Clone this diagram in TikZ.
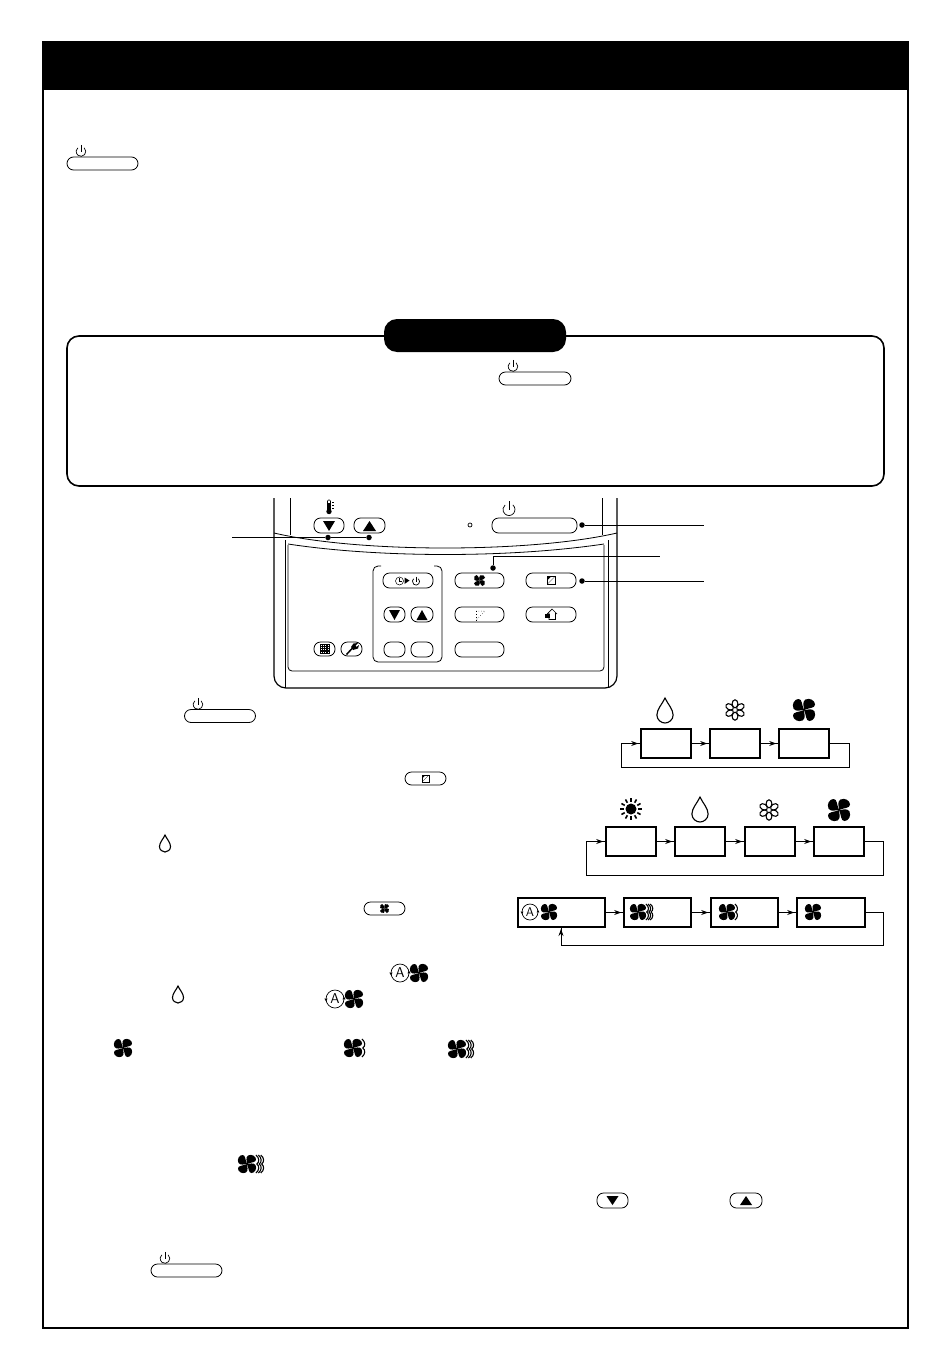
\documentclass[tikz,border=0pt]{standalone}
\usetikzlibrary{arrows.meta, decorations.markings}

\tikzset{
    pillbtn/.style={draw, rounded corners=6.5pt, inner sep=0pt, line width=0.8pt},
    modebox/.style={draw, line width=1.7pt, inner sep=0pt, minimum height=29pt},
    flowline/.style={line width=0.7pt, postaction={decorate}, decoration={markings,
        mark=at position -2pt with {\arrow{Stealth[length=7pt,width=5pt]}}}},
    leadline/.style={line width=1pt},
    leaddot/.style={circle, fill, inner sep=0pt, minimum size=5.5pt},
    pics/fan/.style={code={
        \foreach \a in {0,90,180,270}
            \fill[rotate=\a] (0,0) .. controls (-0.3,-0.02) and (-0.7,0.22) .. (-0.95,-0.12)
                .. controls (-1.15,-0.55) and (-0.85,-1) .. (-0.5,-1)
                .. controls (-0.15,-1) and (-0.22,-0.5) .. (0,0);
    }},
    pics/fanwave/.style={code={
        \foreach \a in {0,90,180,270}
            \fill[rotate=\a] (0,0) .. controls (-0.3,-0.02) and (-0.7,0.22) .. (-0.95,-0.12)
                .. controls (-1.15,-0.55) and (-0.85,-1) .. (-0.5,-1)
                .. controls (-0.15,-1) and (-0.22,-0.5) .. (0,0);
        \foreach \i in {1,...,#1}
            \draw[line width=1.1pt, shift={({0.72+0.27*\i},0)}] (0,-1) .. controls (0.4,-0.7) and (0.4,-0.2) .. (0.1,0)
                .. controls (0.4,0.2) and (0.4,0.7) .. (0,1);
    }},
    pics/drop/.style={code={
        \draw[line width=1.1pt] (0,-1) .. controls (0.2,-0.55) and (0.65,-0.1) .. (0.65,0.36)
            .. controls (0.65,0.75) and (0.3,1) .. (0,1)
            .. controls (-0.3,1) and (-0.65,0.75) .. (-0.65,0.36)
            .. controls (-0.65,-0.1) and (-0.2,-0.55) .. (0,-1) -- cycle;
    }},
    pics/flower/.style={code={
        \foreach \a in {0,60,120,180,240,300}
            \draw[line width=1.1pt, rotate=\a] (0,-0.62) ellipse (0.29 and 0.4);
    }},
    pics/sun/.style={code={
        \fill (0,0) circle (0.5);
        \foreach \a in {0,30,...,330}
            \draw[line width=1.6pt, rotate=\a] (0,-0.66) -- (0,-1);
    }},
    pics/powericon/.style={code={
        \draw[line width=0.7pt] (0.51,-0.61) arc (-50:230:0.8);
        \draw[line width=0.7pt] (0,-1.1) -- (0,0);
    }},
    pics/autoicon/.style={code={
        \draw[line width=0.7pt] (0,0) circle (1);
        \node[scale=0.11, transform shape, font=\sffamily\Large, inner sep=0pt] (autoletter) at (0,0) {A};
        \fill (-1,0.25) -- ++(-0.18,-0.3) -- ++(0.36,0) -- cycle;
        \fill (1,-0.25) -- ++(-0.18,0.3) -- ++(0.36,0) -- cycle;
    }},
    pics/modeicon/.style={code={
        \draw[line width=0.6pt] (-1,-1) rectangle (1,1);
        \draw[line width=0.3pt] (-1,1) -- (1,-1);
        \fill (-0.9,-0.9) -- (-0.1,-0.9) -- (-0.9,-0.1) -- cycle;
    }},
}

\begin{document}
\begin{tikzpicture}[x=1pt, y=-1pt]
    \useasboundingbox (0,0) rectangle (950,1370);

    % page frame and title bar
    \draw[line width=2pt] (43,42.5) rectangle (908,1327.5);
    \fill (42,42) rectangle (909,90);
    \node[pillbtn, minimum width=71pt, minimum height=13pt] (powerTop) at (102.5,163.5) {};
    \pic[scale=6] at (81,151.5) {powericon};

    % note box
    \draw[line width=1.6pt, rounded corners=12pt] (67,336) rectangle (884,486);
    \node[fill, rounded corners=13pt, minimum width=182pt, minimum height=33pt, inner sep=0pt] (noteTab) at (475,335.5) {};
    \node[pillbtn, minimum width=72pt, minimum height=13pt] (powerNote) at (535,378.5) {};
    \pic[scale=6] at (513,366.5) {powericon};

    % remote control
    \draw[line width=1.2pt, rounded corners=12pt] (274,498) -- (274,688) -- (617,688) -- (617,498);
    \draw[line width=0.8pt] (290,498) -- (290,535);
    \draw[line width=0.8pt] (602,498) -- (602,535);
    \draw[line width=0.8pt] (285,540) -- (285,688);
    \draw[line width=0.8pt] (608,540) -- (608,688);
    \draw[line width=0.8pt] (274,533) .. controls (360,553) and (530,553) .. (617,533);
    \draw[line width=0.8pt, rounded corners=4pt] (288,545) -- (288,671) -- (604,671) -- (604,545);
    \draw[line width=0.8pt] (288,544) .. controls (380,558) and (510,558) .. (604,544);
    \draw[line width=0.8pt, rounded corners=5pt] (381,566) -- (373,566) -- (373,662) -- (442,662) -- (442,566) -- (434,566);

    \node[pillbtn, minimum width=30pt, minimum height=15pt] (tempDown) at (329,525.5) {};
    \node[pillbtn, minimum width=31pt, minimum height=15pt] (tempUp) at (369.5,525.5) {};
    \fill (323,521) -- (335,521) -- (329,531) -- cycle;
    \fill (363,531) -- (376,531) -- (369.5,521) -- cycle;
    \draw[line width=0.6pt, rounded corners=1pt] (327.5,510) -- (327.5,500) -- (330.5,500) -- (330.5,510);
    \draw[line width=1.2pt] (329,503) -- (329,510);
    \fill (329,511.5) circle (2.7);
    \draw[line width=0.4pt] (332,502) -- (334,502) (332,505) -- (334,505) (332,508) -- (334,508);
    \pic[scale=7.5] at (509,509.5) {powericon};
    \node[draw, circle, inner sep=0pt, minimum size=4pt, line width=0.7pt] (ledLamp) at (470,525) {};
    \node[pillbtn, minimum width=85pt, minimum height=15pt] (powerMain) at (534.5,525.5) {};

    \node[pillbtn, minimum width=50pt, minimum height=15pt] (timerBtn) at (408,580.5) {};
    \draw[line width=0.5pt] (399.5,581) circle (4);
    \draw[line width=0.4pt] (399.5,578) -- (399.5,581) -- (402,581);
    \fill (404.5,577.5) -- (404.5,584) -- (409.5,580.5) -- cycle;
    \pic[scale=4.5] at (416,581.5) {powericon};
    \node[pillbtn, minimum width=21pt, minimum height=15pt] (timeDown) at (394.5,614.5) {};
    \node[pillbtn, minimum width=22pt, minimum height=15pt] (timeUp) at (422,614.5) {};
    \fill (389,610) -- (400,610) -- (394.5,620) -- cycle;
    \fill (416.5,620) -- (427.5,620) -- (422,610) -- cycle;
    \node[pillbtn, minimum width=21pt, minimum height=15pt] (setBtn) at (394.5,649.5) {};
    \node[pillbtn, minimum width=22pt, minimum height=15pt] (clearBtn) at (422,649.5) {};

    \node[pillbtn, minimum width=49pt, minimum height=15pt] (fanBtn) at (479.5,580.5) {};
    \pic[scale=5.5] at (479.5,580.5) {fan};
    \node[pillbtn, minimum width=50pt, minimum height=15pt] (modeBtn) at (551,580.5) {};
    \pic[scale=3.8] at (551,580.5) {modeicon};
    \node[pillbtn, minimum width=49pt, minimum height=15pt] (louverBtn) at (479.5,614.5) {};
    \draw[line width=0.5pt, dotted] (476,611) -- (485,611) -- (476,620);
    \draw[line width=0.9pt, dotted] (476,611) -- (476,620);
    \node[pillbtn, minimum width=50pt, minimum height=15pt] (homeBtn) at (551,614.5) {};
    \draw[line width=0.7pt] (547,614) -- (552,609) -- (557,614) (549,613) -- (549,619.5) -- (555.5,619.5) -- (555.5,613);
    \fill (545,614) rectangle (549.5,618);
    \node[pillbtn, minimum width=49pt, minimum height=15pt] (resetBtn) at (479.5,649.5) {};

    \node[pillbtn, minimum width=21pt, minimum height=14pt] (gridBtn) at (324.5,649) {};
    \draw[line width=0.4pt, step=1.8pt] (320,644.5) grid (329.2,653.5);
    \draw[line width=0.6pt] (320,644.5) rectangle (329,653.5);
    \node[pillbtn, minimum width=21pt, minimum height=14pt] (toolBtn) at (351.5,649) {};
    \draw[line width=1.5pt] (346.5,654.5) -- (353,647.5);
    \fill (353,650) -- (351,647) -- (353.5,643.5) -- (358,643) -- (355.5,645.5) -- (356.5,647) -- (359,645) -- (358,648.5) -- cycle;

    % leaders
    \coordinate (leadTemp) at (232,537.5);
    \coordinate (leadPower) at (704,525);
    \coordinate (leadFanBend) at (493,556.5);
    \coordinate (leadFan) at (660,556.5);
    \coordinate (leadMode) at (704,581);
    \node[leaddot] (dotDown) at (328,537.5) {};
    \node[leaddot] (dotUp) at (369,537.5) {};
    \node[leaddot] (dotPower) at (582,525) {};
    \node[leaddot] (dotFan) at (493,568) {};
    \node[leaddot] (dotMode) at (582,581) {};
    \draw[leadline] (leadTemp) -- (dotDown) -- (dotUp);
    \draw[leadline] (dotPower) -- (leadPower);
    \draw[leadline] (dotFan) -- (leadFanBend) -- (leadFan);
    \draw[leadline] (dotMode) -- (leadMode);

    % first mode loop
    \node[modebox, minimum width=50pt] (dryA) at (666,743.5) {};
    \node[modebox, minimum width=50pt] (coolA) at (735,743.5) {};
    \node[modebox, minimum width=50pt] (fanA) at (804,743.5) {};
    \pic[scale=12.5] at (665,710.5) {drop};
    \pic[scale=10] at (735,710) {flower};
    \pic[scale=11] at (804,710) {fan};
    \coordinate (loopAr) at (849,767);
    \coordinate (loopAl) at (621,767);
    \draw[flowline] (dryA) -- (coolA);
    \draw[flowline] (coolA) -- (fanA);
    \draw[flowline] (fanA) -| (loopAr) -- (loopAl) |- (dryA);

    % second mode loop
    \node[modebox, minimum width=50pt] (heatB) at (631,841.5) {};
    \node[modebox, minimum width=50pt] (dryB) at (700,841.5) {};
    \node[modebox, minimum width=50pt] (coolB) at (770,841.5) {};
    \node[modebox, minimum width=50pt] (fanB) at (839,841.5) {};
    \pic[scale=11] at (631,809) {sun};
    \pic[scale=12.5] at (700,809.5) {drop};
    \pic[scale=10] at (769,810) {flower};
    \pic[scale=11] at (839,810) {fan};
    \coordinate (loopBr) at (883,875);
    \coordinate (loopBl) at (586,875);
    \draw[flowline] (heatB) -- (dryB);
    \draw[flowline] (dryB) -- (coolB);
    \draw[flowline] (coolB) -- (fanB);
    \draw[flowline] (fanB) -| (loopBr) -- (loopBl) |- (heatB);

    % fan speed loop
    \node[modebox, minimum width=87pt] (speedAuto) at (561.5,912.5) {};
    \node[modebox, minimum width=67pt] (speedHigh) at (657.5,912.5) {};
    \node[modebox, minimum width=67pt] (speedMed) at (744.5,912.5) {};
    \node[modebox, minimum width=68pt] (speedLow) at (831,912.5) {};
    \pic[scale=8] at (530,912) {autoicon};
    \pic[scale=8] at (549,912) {fan};
    \pic[scale=8] at (638,912) {fanwave=3};
    \pic[scale=8] at (727,912) {fanwave=1};
    \pic[scale=8] at (813,912) {fan};
    \coordinate (loopCr) at (883,945);
    \coordinate (loopCl) at (561,945);
    \coordinate (loopCin) at (561,927);
    \draw[flowline] (speedAuto) -- (speedHigh);
    \draw[flowline] (speedHigh) -- (speedMed);
    \draw[flowline] (speedMed) -- (speedLow);
    \draw[flowline] (speedLow) -| (loopCr) -- (loopCl) -- (loopCin);

    % buttons and symbols in the running text
    \node[pillbtn, minimum width=71pt, minimum height=13pt] (powerStepA) at (220,716) {};
    \pic[scale=6] at (198,704.5) {powericon};
    \node[pillbtn, minimum width=41pt, minimum height=13pt] (modeStep) at (425.5,778.5) {};
    \pic[scale=3.5] at (425.5,778.5) {modeicon};
    \pic[scale=8.5] at (165,843.5) {drop};
    \node[pillbtn, minimum width=41pt, minimum height=13pt] (fanStep) at (384.5,908.5) {};
    \pic[scale=4.5] at (384.5,908.5) {fan};
    \pic[scale=9] at (400,973) {autoicon};
    \pic[scale=9] at (419,973) {fan};
    \pic[scale=8.5] at (178,994.5) {drop};
    \pic[scale=9] at (335,999) {autoicon};
    \pic[scale=9] at (354,999) {fan};
    \pic[scale=9] at (123,1048) {fan};
    \pic[scale=9] at (353,1048) {fanwave=1};
    \pic[scale=9] at (457,1049) {fanwave=3};
    \pic[scale=9] at (247,1164) {fanwave=3};
    \node[pillbtn, minimum width=31pt, minimum height=15pt] (downStep) at (612.5,1200.5) {};
    \fill (606.5,1196) -- (618.5,1196) -- (612.5,1205) -- cycle;
    \node[pillbtn, minimum width=32pt, minimum height=15pt] (upStep) at (746,1200.5) {};
    \fill (740,1205) -- (752,1205) -- (746,1196) -- cycle;
    \node[pillbtn, minimum width=71pt, minimum height=13pt] (powerStepB) at (186.5,1270.5) {};
    \pic[scale=6] at (165,1258.5) {powericon};
\end{tikzpicture}
\end{document}
